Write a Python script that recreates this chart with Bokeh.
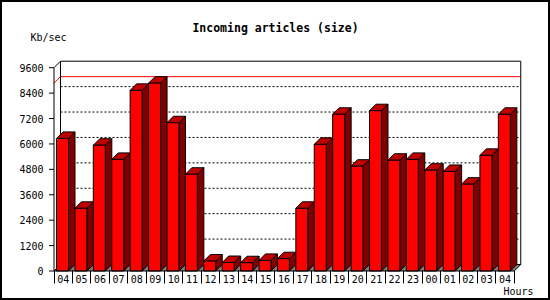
from bokeh.plotting import figure
from bokeh.models import Range1d, LinearAxis, FixedTicker, Title, Label, InlineStyleSheet
from bokeh.embed import file_html
from bokeh.resources import INLINE

# ---------------- data ----------------
hours = ["04", "05", "06", "07", "08", "09", "10", "11", "12", "13", "14", "15",
         "16", "17", "18", "19", "20", "21", "22", "23", "00", "01", "02", "03", "04"]
kb_sec = [6260, 2960, 5940, 5270, 8530, 8870, 7000, 4570, 470, 400, 390, 500,
          580, 2960, 5980, 7400, 4950, 7570, 5230, 5270, 4760, 4700, 4100, 5460, 7400]
y_ticks = [0, 1200, 2400, 3600, 4800, 6000, 7200, 8400, 9600]
title_text = "Incoming articles (size)"
y_unit = "Kb/sec"
x_unit = "Hours"

# ---------------- geometry (styles) ----------------
W, H = 550, 300
CELL = 18.41                 # px per hour slot
Y_PX = 203.3 / 9600.0        # px per Kb/sec unit
X0, Y0 = 53.5, 270.5         # canvas px of front-left-bottom corner
FL, FR, FT, FB = 30, 522, 0, 272    # frame edges in canvas px
DEPTH = 6.5                  # 3D depth in px
DX = DEPTH / CELL
DY = DEPTH / Y_PX
TICK = 5.0 / CELL
BAR_OFF = 2.5 / CELL
BAR_W = 12.0 / CELL
n = len(kb_sec)
TOPV = y_ticks[-1]


def xd(px):
    return (px - X0) / CELL - 0.5


def yd(py):
    return (Y0 - py) / Y_PX


p = figure(width=W, height=H,
           x_range=Range1d(xd(FL), xd(FR)), y_range=Range1d(yd(FB), yd(FT)),
           min_border_left=FL, min_border_right=W - FR,
           min_border_top=FT, min_border_bottom=H - FB,
           x_axis_type=None, y_axis_type=None,
           toolbar_location=None, output_backend="svg")
p.xgrid.visible = False
p.ygrid.visible = False
p.outline_line_color = None
p.background_fill_color = "white"
p.border_fill_color = "white"
p.stylesheets = [InlineStyleSheet(css=(
    ":host::after{content:'';position:absolute;left:0;top:0;width:550px;height:300px;"
    "box-sizing:border-box;border:2px solid black;pointer-events:none;z-index:100;}"))]

left_edge = -0.5
right_edge = n - 0.5

# floor
p.patch([left_edge, right_edge, right_edge + DX, left_edge + DX], [0, 0, DY, DY],
        fill_color="#808080", line_color=None)

# dotted grid lines on back wall
grid_vals = [v for v in y_ticks[1:-1]]
p.multi_line(xs=[[left_edge + DX, right_edge + DX] for _ in grid_vals],
             ys=[[v + DY, v + DY] for v in grid_vals],
             line_color="black", line_width=1, line_dash="2 2")

# max line (red)
vmax = max(kb_sec)
p.multi_line(xs=[[left_edge, left_edge + DX, right_edge + DX]],
             ys=[[vmax, vmax + DY, vmax + DY]],
             line_color="#ff0000", line_width=1)

# back wall outline
p.multi_line(xs=[[left_edge + DX, left_edge + DX, right_edge + DX, right_edge + DX, left_edge + DX],
                 [left_edge, left_edge + DX],
                 [left_edge, left_edge + DX]],
             ys=[[DY, TOPV + DY, TOPV + DY, DY, DY],
                 [TOPV, TOPV + DY],
                 [0, DY]],
             line_color="black", line_width=1)

# bars
xl = [i - 0.5 + BAR_OFF for i in range(n)]
xr = [x + BAR_W for x in xl]
p.patches(xs=[[r, r + DX, r + DX, r] for r in xr],
          ys=[[0, DY, v + DY, v] for v in kb_sec],
          fill_color="#800000", line_color="black", line_width=1)
p.patches(xs=[[l, l + DX, r + DX, r] for l, r in zip(xl, xr)],
          ys=[[v, v + DY, v + DY, v] for v in kb_sec],
          fill_color="#c00000", line_color="black", line_width=1)
p.quad(left=xl, right=xr, bottom=0, top=kb_sec,
       fill_color="#ff0000", line_color="black", line_width=1)

# front axis lines and y tick marks
p.multi_line(xs=[[left_edge, left_edge], [left_edge, right_edge], [right_edge, right_edge + DX]],
             ys=[[0, TOPV], [0, 0], [0, DY]],
             line_color="black", line_width=1)
p.segment(x0=[left_edge - TICK] * len(y_ticks), x1=[left_edge] * len(y_ticks),
          y0=y_ticks, y1=y_ticks, line_color="black", line_width=1)

FONT = "DejaVu Sans Mono"

yax = LinearAxis(ticker=FixedTicker(ticks=y_ticks, minor_ticks=[]),
                 major_tick_in=0, major_tick_out=0, minor_tick_in=0, minor_tick_out=0,
                 major_tick_line_color=None,
                 minor_tick_line_color=None, axis_line_color=None,
                 major_label_standoff=-13,
                 major_label_text_font=FONT, major_label_text_font_size="10px",
                 major_label_text_color="black")
p.add_layout(yax, "left")

xax = LinearAxis(ticker=FixedTicker(ticks=list(range(n)),
                                    minor_ticks=[i - 0.5 for i in range(n + 1)]),
                 major_label_overrides={i: h for i, h in enumerate(hours)},
                 major_tick_in=0, major_tick_out=0, major_tick_line_color=None,
                 minor_tick_in=2, minor_tick_out=11, minor_tick_line_color="black",
                 axis_line_color=None, major_label_standoff=-9,
                 major_label_text_font=FONT, major_label_text_font_size="10px",
                 major_label_text_color="black")
p.add_layout(xax, "below")

# texts
p.add_layout(Label(x=xd(275), y=yd(27), text=title_text, text_align="center",
                   text_baseline="middle", text_font=FONT, text_font_style="bold",
                   text_font_size="11.5px", text_color="black"))
p.add_layout(Label(x=xd(30), y=yd(37), text=y_unit, text_align="left",
                   text_baseline="middle", text_font=FONT,
                   text_font_size="10px", text_color="black"))
p.add_layout(Title(text=x_unit, align="right", offset=-11, standoff=0,
                   vertical_align="top",
                   text_font=FONT, text_font_size="10px", text_font_style="normal",
                   text_color="black"), "below")

open("out.html", "w").write(file_html(p, INLINE))
